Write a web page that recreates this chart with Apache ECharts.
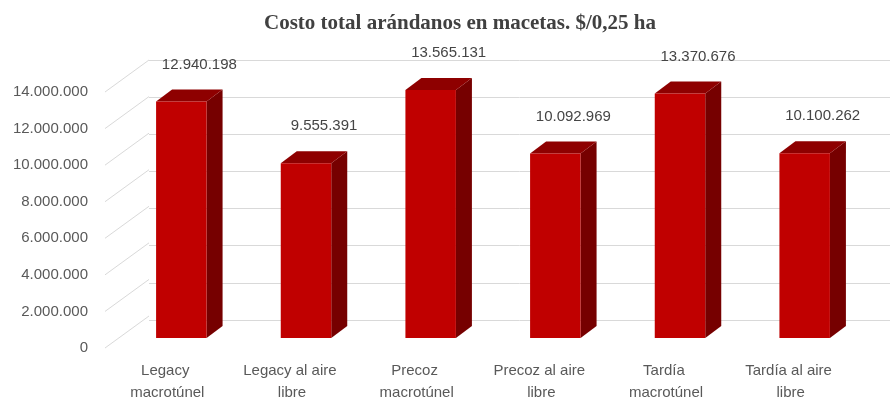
<!DOCTYPE html>
<html>
<head>
<meta charset="utf-8">
<script src="https://cdn.jsdelivr.net/npm/echarts@6/dist/echarts.min.js"></script>
<style>
  html, body { margin: 0; padding: 0; background: #fff; }
  #main { width: 890px; height: 404px; }
</style>
</head>
<body>
<div id="main"></div>
<script>
var categories = ['Legacy macrotúnel', 'Legacy al aire libre', 'Precoz macrotúnel',
                  'Precoz al aire libre', 'Tardía macrotúnel', 'Tardía al aire libre'];
var costs = [12940198, 9555391, 13565131, 10092969, 13370676, 10100262];
var yTicks = [0, 2000000, 4000000, 6000000, 8000000, 10000000, 12000000, 14000000];

/* desplazamientos del efecto 3D (px) */
var WALL_DX = 44, WALL_DY = -32;   // pared del fondo respecto al plano frontal
var BAR_DX = 14, BAR_DY = -10;     // plano de las barras
var DEPTH_DX = 16, DEPTH_DY = -12; // profundidad de cada barra

function miles(v) {
    return String(Math.round(v)).replace(/\B(?=(\d{3})+(?!\d))/g, '.');
}

function renderBar(params, api) {
    var base = api.coord([api.value(0), 0]);
    var top = api.coord([api.value(0), api.value(1)]);
    var w = api.size([1, 0])[0] * 0.405;
    var x0 = base[0] + BAR_DX - w / 2, x1 = x0 + w;
    var yb = base[1] + BAR_DY, yt = top[1] + BAR_DY;
    return {
        type: 'group',
        children: [
            {type: 'polygon', shape: {points: [[x1, yb], [x1 + DEPTH_DX, yb + DEPTH_DY], [x1 + DEPTH_DX, yt + DEPTH_DY], [x1, yt]]},
                style: {fill: '#760000'}},
            {type: 'polygon', shape: {points: [[x0, yt], [x0 + DEPTH_DX, yt + DEPTH_DY], [x1 + DEPTH_DX, yt + DEPTH_DY], [x1, yt]]},
                style: {fill: '#8e0000'}},
            {type: 'rect', shape: {x: x0, y: yt, width: w, height: yb - yt},
                style: {fill: '#c00000'}},
            {type: 'text', x: x0 + w / 2 + 18, y: yt - 37,
                style: {text: miles(api.value(1)), fill: '#454545', font: '15px "Liberation Sans"',
                    textAlign: 'center', textVerticalAlign: 'middle'}}
        ]
    };
}

function renderDiag(params, api) {
    var p = api.coord([0, api.value(1)]);
    var x = params.coordSys.x;
    return {
        type: 'line',
        shape: {x1: x, y1: p[1], x2: x + WALL_DX, y2: p[1] + WALL_DY},
        style: {stroke: '#d9d9d9', lineWidth: 1}
    };
}

var myChart = echarts.init(document.getElementById('main'));
var option = {
    backgroundColor: '#fff',
    animation: false,
    title: {
        text: 'Costo total arándanos en macetas. $/0,25 ha',
        left: 455,
        top: 8,
        textAlign: 'center',
        textStyle: {fontFamily: 'Liberation Serif', fontSize: 21, fontWeight: 'bold', color: '#404040'}
    },
    grid: [
        {left: 105, right: 37, top: 92, bottom: 52},
        {left: 149, right: 0, top: 60, bottom: 84}
    ],
    xAxis: [{
        type: 'category',
        gridIndex: 0,
        data: categories,
        axisLine: {show: false},
        axisTick: {show: false},
        axisLabel: {
            color: '#595959', fontFamily: 'Liberation Sans', fontSize: 15,
            lineHeight: 22, margin: 12, width: 108, overflow: 'break', interval: 0
        }
    }, {
        type: 'value',
        gridIndex: 1,
        show: false
    }],
    yAxis: [{
        type: 'value',
        gridIndex: 0,
        min: 0,
        max: 14000000,
        interval: 2000000,
        axisLine: {show: false},
        axisTick: {show: false},
        splitLine: {show: false},
        axisLabel: {
            color: '#595959', fontFamily: 'Liberation Sans', fontSize: 15, margin: 17,
            formatter: function (v) { return miles(v); }
        }
    }, {
        type: 'value',
        gridIndex: 1,
        min: 0,
        max: 14000000,
        interval: 2000000,
        axisLine: {show: false},
        axisTick: {show: false},
        axisLabel: {show: false},
        splitLine: {lineStyle: {color: '#d9d9d9', width: 1}}
    }],
    series: [{
        type: 'custom',
        xAxisIndex: 0,
        yAxisIndex: 0,
        renderItem: renderDiag,
        data: yTicks.map(function (v) { return [0, v]; }),
        silent: true,
        z: 1
    }, {
        type: 'custom',
        xAxisIndex: 0,
        yAxisIndex: 0,
        renderItem: renderBar,
        data: costs.map(function (v, i) { return [i, v]; }),
        z: 3
    }]
};
myChart.setOption(option);
window.onresize = myChart.resize;
</script>
</body>
</html>
